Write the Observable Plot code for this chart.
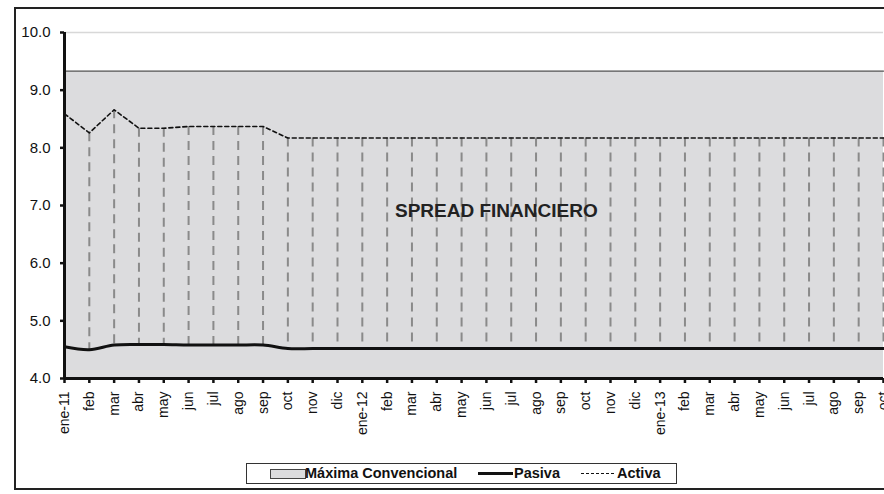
<!DOCTYPE html>
<html><head><meta charset="utf-8">
<script src="https://cdn.jsdelivr.net/npm/d3@7"></script>
<script src="https://cdn.jsdelivr.net/npm/@observablehq/plot@0.6"></script>
<style>
html,body{margin:0;padding:0;background:#fff;overflow:hidden;width:884px;height:494px;}
#wrap{position:relative;width:884px;height:494px;font-family:"Liberation Sans",Arial,sans-serif;}
#wrap svg{position:absolute;left:0;top:0;}
#frame{position:absolute;left:14px;top:7px;width:900px;height:483px;border:2px solid #222;box-sizing:border-box;pointer-events:none;}
#legend{position:absolute;left:246px;top:463px;width:431px;height:21px;border:1px solid #333;box-sizing:border-box;background:#fff;font-weight:bold;font-size:14.5px;color:#111;}
#legend .it{position:absolute;top:1px;line-height:17px;}
.sw{position:absolute;}
</style></head><body>
<div id="wrap"><div id="frame"></div>
<div id="legend">
 <div class="sw" style="left:23px;top:5px;width:34px;height:8px;background:#dcdcde;border:1px solid #444;"></div>
 <div class="it" style="left:58px;">Máxima Convencional</div>
 <div class="sw" style="left:231px;top:8px;width:35px;height:3px;background:#111;"></div>
 <div class="it" style="left:267px;">Pasiva</div>
 <div class="sw" style="left:334px;top:9px;width:33px;height:0;border-top:1.5px dashed #111;"></div>
 <div class="it" style="left:370px;">Activa</div>
</div>
</div>
<script>
const months = ["ene-11","feb","mar","abr","may","jun","jul","ago","sep","oct","nov","dic",
  "ene-12","feb","mar","abr","may","jun","jul","ago","sep","oct","nov","dic",
  "ene-13","feb","mar","abr","may","jun","jul","ago","sep","oct"];
const activa = [8.59,8.26,8.66,8.34,8.34,8.37,8.37,8.37,8.37,8.17,8.17,8.17,
  8.17,8.17,8.17,8.17,8.17,8.17,8.17,8.17,8.17,8.17,8.17,8.17,
  8.17,8.17,8.17,8.17,8.17,8.17,8.17,8.17,8.17,8.17];
const pasiva = [4.55,4.50,4.58,4.59,4.59,4.58,4.58,4.58,4.58,4.52,4.52,4.52,
  4.52,4.52,4.52,4.52,4.52,4.52,4.52,4.52,4.52,4.52,4.52,4.52,
  4.52,4.52,4.52,4.52,4.52,4.52,4.52,4.52,4.52,4.52];
const maxima = [9.33,9.33,9.33,9.33,9.33,9.33,9.33,9.33,9.33,9.33,9.33,9.33,
  9.33,9.33,9.33,9.33,9.33,9.33,9.33,9.33,9.33,9.33,9.33,9.33,
  9.33,9.33,9.33,9.33,9.33,9.33,9.33,9.33,9.33,9.33];
const yTicks = [4,5,6,7,8,9,10];
const annotation = {label:"SPREAD FINANCIERO", x:17.4, y:6.9};

const data = months.map((m,i)=>({i, m, activa:activa[i], pasiva:pasiva[i], maxima:maxima[i]}));

const chart = Plot.plot({
  width:884, height:494,
  marginLeft:64, marginRight:1, marginTop:32, marginBottom:116,
  style:{fontFamily:"'Liberation Sans', Arial, sans-serif", background:"transparent", overflow:"visible"},
  x:{type:"linear", domain:[0, months.length-1]},
  y:{domain:[4,10]},
  marks:[
    Plot.ruleY([10], {stroke:"#d8d8d8", strokeWidth:1.5}),
    Plot.areaY(data, {x:"i", y1:4, y2:"maxima", fill:"#dcdcde"}),
    Plot.lineY(data, {x:"i", y:"maxima", stroke:"#555", strokeWidth:1.2}),
    Plot.ruleX(data, {x:"i", y1:"activa", y2:"pasiva", stroke:"#8a8a8a", strokeWidth:2, strokeDasharray:"9,6"}),
    Plot.lineY(data, {x:"i", y:"activa", stroke:"#111", strokeWidth:1.6, strokeDasharray:"4,3"}),
    Plot.lineY(data, {x:"i", y:"pasiva", stroke:"#111", strokeWidth:3, curve:"catmull-rom"}),
    Plot.text([annotation], {x:"x", y:"y", text:"label", fontSize:19, fontWeight:"bold", fill:"#222", textAnchor:"middle"}),
    Plot.axisY({ticks:yTicks, tickFormat:d=>d.toFixed(1), tickSize:4, tickPadding:10, fontSize:15, fill:"#111", stroke:"#111", strokeWidth:2.5, label:null}),
    Plot.axisX({ticks:d3.range(months.length), tickFormat:i=>months[i], tickRotate:-90, tickSize:5, tickPadding:8, fontSize:14, fill:"#111", stroke:"#111", strokeWidth:2.5, label:null}),
    Plot.ruleX([0], {y1:4, y2:10, stroke:"#111", strokeWidth:3}),
    Plot.ruleY([4], {stroke:"#111", strokeWidth:3})
  ]
});
document.getElementById("wrap").insertBefore(chart, document.getElementById("frame"));
</script>
</body></html>
